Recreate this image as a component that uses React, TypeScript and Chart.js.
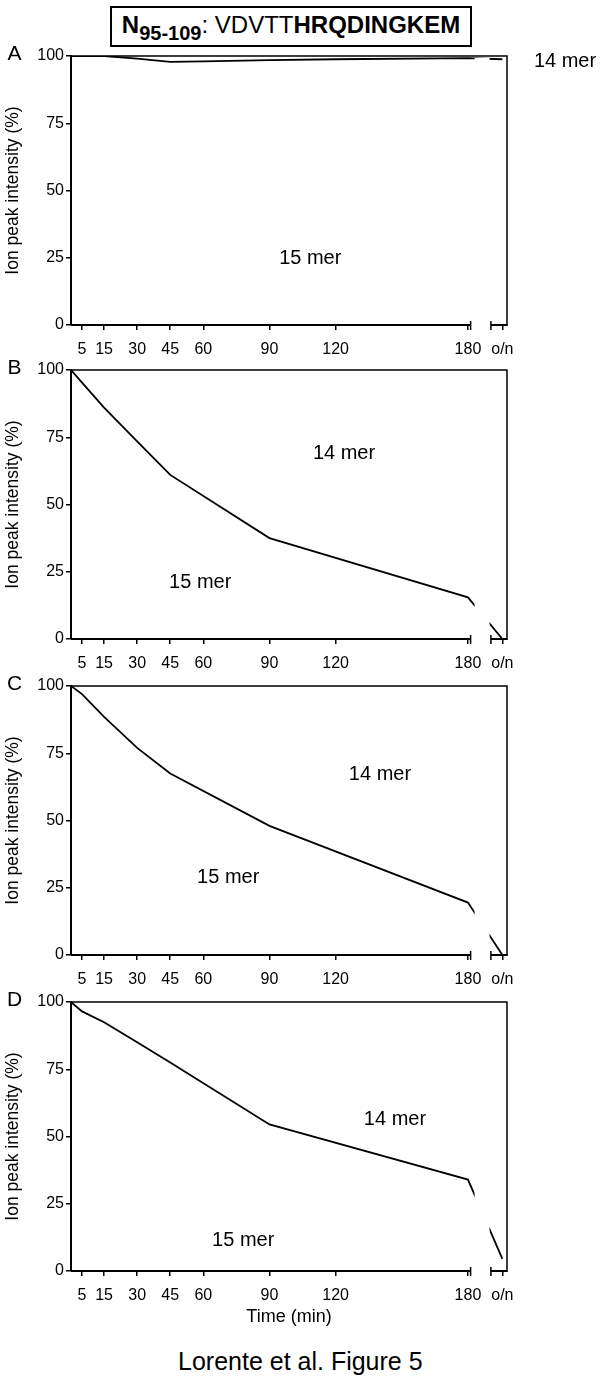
import React, { useEffect, useRef } from "react";
import { Chart, registerables } from "chart.js";

Chart.register(...registerables);

const FONT = '"Liberation Sans", Arial, Helvetica, sans-serif';

// ---- data ----
const OVERNIGHT = 195.6; // position of the "o/n" sample on the time axis
const X_MAX = 197.7;
const X_TICKS = [5, 15, 30, 45, 60, 90, 120, 180, OVERNIGHT];
const X_TICK_LABELS = ["5", "15", "30", "45", "60", "90", "120", "180", "o/n"];
const Y_TICKS = [0, 25, 50, 75, 100];
const AXIS_BREAK = [181.2, 190.4];
const LINE_GAP = [183, 189.8];

const panelATimes = [0, 5, 15, 30, 45, 60, 90, 120, 180, OVERNIGHT];
const panelAValues = [100, 100, 100, 99, 97.8, 98, 98.5, 98.8, 99.2, 98.8];

const panelBTimes = [0, 5, 15, 30, 45, 90, 180, OVERNIGHT];
const panelBValues = [100, 95.3, 86, 73.5, 61, 37.5, 15.5, 0];

const panelCTimes = [0, 5, 15, 30, 45, 90, 180, OVERNIGHT];
const panelCValues = [100, 97, 88.5, 77, 67.5, 48, 19.5, 0];

const panelDTimes = [0, 5, 15, 30, 45, 90, 180, OVERNIGHT];
const panelDValues = [100, 96.5, 92.5, 85, 77.5, 54.5, 34, 4.5];

const Y_TITLE = "Ion peak intensity (%)";
const X_TITLE = "Time (min)";

type PanelCfg = {
  letter: string;
  times: number[];
  values: number[];
  label14: [number, number];
  label15: [number, number];
  canvasTop: number;
  xTitle: boolean;
};

const PANELS: PanelCfg[] = [
  { letter: "A", times: panelATimes, values: panelAValues, label14: [224, 98.1], label15: [108.5, 24.9], canvasTop: 44, xTitle: false },
  { letter: "B", times: panelBTimes, values: panelBValues, label14: [123.8, 69.1], label15: [58.6, 21.0], canvasTop: 358, xTitle: false },
  { letter: "C", times: panelCTimes, values: panelCValues, label14: [140.1, 67.1], label15: [71.3, 28.8], canvasTop: 674, xTitle: false },
  { letter: "D", times: panelDTimes, values: panelDValues, label14: [146.9, 56.5], label15: [78.1, 11.2], canvasTop: 990, xTitle: true },
];

const PAD_TOP = 12;
const PLOT_H = 269;

const framePlugin = {
  id: "frame",
  afterDatasetsDraw(chart: any, _args: any, opts: any) {
    const { ctx, chartArea: a } = chart;
    const x = chart.scales.x;
    const y = chart.scales.y;
    ctx.save();
    // gap in the curve at the axis break
    const g0 = x.getPixelForValue(LINE_GAP[0]);
    const g1 = x.getPixelForValue(LINE_GAP[1]);
    ctx.fillStyle = "#fff";
    ctx.fillRect(g0, a.top + 2, g1 - g0, a.bottom - a.top - 3);
    // top and right frame
    ctx.strokeStyle = "#000";
    ctx.lineWidth = 1.5;
    ctx.beginPath();
    ctx.moveTo(a.left, a.top);
    ctx.lineTo(a.right, a.top);
    ctx.lineTo(a.right, a.bottom);
    ctx.stroke();
    // x axis with break
    const b0 = x.getPixelForValue(AXIS_BREAK[0]);
    const b1 = x.getPixelForValue(AXIS_BREAK[1]);
    ctx.lineWidth = 2;
    ctx.beginPath();
    ctx.moveTo(a.left, a.bottom);
    ctx.lineTo(b0, a.bottom);
    ctx.moveTo(b1, a.bottom);
    ctx.lineTo(a.right + 0.75, a.bottom);
    ctx.stroke();
    ctx.lineWidth = 1.5;
    ctx.beginPath();
    ctx.moveTo(b0, a.bottom - 4);
    ctx.lineTo(b0, a.bottom + 5);
    ctx.moveTo(b1, a.bottom - 4);
    ctx.lineTo(b1, a.bottom + 5);
    ctx.stroke();
    // labels
    ctx.fillStyle = "#000";
    ctx.textAlign = "center";
    ctx.textBaseline = "middle";
    ctx.font = `20px ${FONT}`;
    ctx.fillText("14 mer", x.getPixelForValue(opts.label14[0]), y.getPixelForValue(opts.label14[1]));
    ctx.fillText("15 mer", x.getPixelForValue(opts.label15[0]), y.getPixelForValue(opts.label15[1]));
    ctx.font = `21px ${FONT}`;
    ctx.fillText(opts.letter, 14.5, a.top - 2);
    ctx.restore();
  },
};

function Panel({ cfg }: { cfg: PanelCfg }) {
  const ref = useRef<HTMLCanvasElement>(null);
  const xH = cfg.xTitle ? 60 : 35;
  const h = PAD_TOP + PLOT_H + xH;
  useEffect(() => {
    const data = cfg.times.map((t, i) => ({ x: t, y: cfg.values[i] }));
    const chart = new Chart(ref.current as HTMLCanvasElement, {
      type: "line",
      data: {
        datasets: [
          {
            data,
            borderColor: "#000",
            borderWidth: 1.8,
            pointRadius: 0,
            fill: false,
            tension: 0,
          },
        ],
      },
      options: {
        animation: false,
        responsive: false,
        layout: { padding: { top: PAD_TOP, right: 94, left: 0, bottom: 0 } },
        plugins: {
          legend: { display: false },
          tooltip: { enabled: false },
          frame: { letter: cfg.letter, label14: cfg.label14, label15: cfg.label15 },
        } as any,
        scales: {
          x: {
            type: "linear",
            min: 0,
            max: X_MAX,
            afterBuildTicks: (s: any) => {
              s.ticks = X_TICKS.map((v) => ({ value: v }));
            },
            afterFit: (s: any) => {
              s.height = xH;
            },
            ticks: {
              autoSkip: false,
              maxRotation: 0,
              padding: 10,
              color: "#000",
              font: { family: FONT, size: 16 },
              callback: (v: any) => {
                const i = X_TICKS.indexOf(Number(v));
                return i >= 0 ? X_TICK_LABELS[i] : "";
              },
            },
            grid: { display: true, drawOnChartArea: false, drawTicks: true, tickLength: 5, color: "#000", lineWidth: 1.5 },
            border: { display: false },
            title: {
              display: cfg.xTitle,
              text: X_TITLE,
              color: "#000",
              font: { family: FONT, size: 18 },
              padding: { top: 0, bottom: 3 },
            },
          },
          y: {
            type: "linear",
            min: 0,
            max: 100,
            afterBuildTicks: (s: any) => {
              s.ticks = Y_TICKS.map((v) => ({ value: v }));
            },
            afterFit: (s: any) => {
              s.width = 71;
            },
            ticks: {
              padding: 2,
              color: "#000",
              font: { family: FONT, size: 16 },
            },
            grid: { display: true, drawOnChartArea: false, drawTicks: true, tickLength: 5, color: "#000", lineWidth: 1.5 },
            border: { display: true, color: "#000", width: 2 },
            title: {
              display: true,
              text: Y_TITLE,
              color: "#000",
              font: { family: FONT, size: 17.5 },
              padding: { top: 3, bottom: 0 },
            },
          },
        },
      },
      plugins: [framePlugin],
    } as any);
    return () => chart.destroy();
  }, []);
  return (
    <canvas
      ref={ref}
      width={601}
      height={h}
      style={{ position: "absolute", left: 0, top: cfg.canvasTop, width: 601, height: h }}
    />
  );
}

export default function App() {
  return (
    <div style={{ position: "absolute", left: 0, top: 0, width: 601, height: 1379, background: "#fff", overflow: "hidden" }}>
      <div
        style={{
          position: "absolute",
          left: 110,
          top: 6,
          width: 362,
          height: 41,
          boxSizing: "border-box",
          border: "2px solid #000",
          fontFamily: FONT,
          fontSize: 24,
          color: "#000",
          textAlign: "center",
          lineHeight: "33px",
          whiteSpace: "nowrap",
        }}
      >
        <b>N</b>
        <b style={{ fontSize: 20, position: "relative", top: 7 }}>95-109</b>
        <span>: VDVTT</span>
        <b>HRQDINGKEM</b>
      </div>
      {PANELS.map((p) => (
        <Panel key={p.letter} cfg={p} />
      ))}
      <div
        style={{
          position: "absolute",
          left: 178,
          top: 1346,
          fontFamily: FONT,
          fontSize: 25,
          lineHeight: "30px",
          color: "#000",
          whiteSpace: "nowrap",
        }}
      >
        Lorente et al. Figure 5
      </div>
    </div>
  );
}
